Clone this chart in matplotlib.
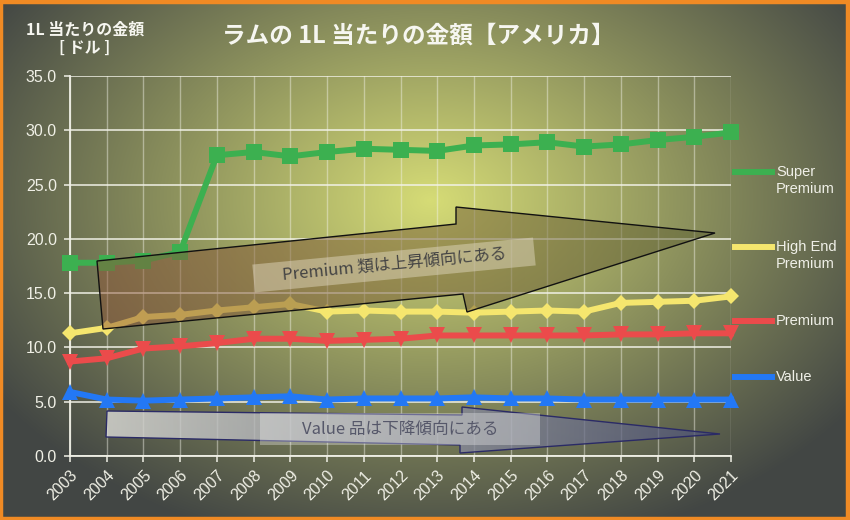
import numpy as np
import matplotlib
matplotlib.use('Agg')
import matplotlib.pyplot as plt
from matplotlib.patches import Polygon, Rectangle
from matplotlib.lines import Line2D

# ---------------- data ----------------
years = list(range(2003, 2022))
super_premium = [17.8, 17.8, 18.0, 18.8, 27.7, 28.0, 27.6, 28.0, 28.3, 28.2,
                 28.1, 28.6, 28.7, 28.9, 28.5, 28.7, 29.1, 29.4, 29.8]
high_end_premium = [11.3, 11.8, 12.8, 13.0, 13.4, 13.7, 14.0, 13.3, 13.4, 13.3,
                    13.3, 13.2, 13.3, 13.4, 13.3, 14.1, 14.2, 14.3, 14.7]
premium = [8.7, 9.0, 9.9, 10.1, 10.4, 10.8, 10.8, 10.6, 10.7, 10.8,
           11.1, 11.1, 11.1, 11.1, 11.1, 11.2, 11.2, 11.3, 11.3]
value = [5.9, 5.2, 5.1, 5.2, 5.3, 5.4, 5.5, 5.2, 5.3, 5.3,
         5.3, 5.4, 5.3, 5.3, 5.2, 5.2, 5.2, 5.2, 5.2]
series_names = ["Super\nPremium", "High End\nPremium", "Premium", "Value"]
y_ticks = [0, 5, 10, 15, 20, 25, 30, 35]
title = "ラムの 1L 当たりの金額【アメリカ】"
ylabel = "1L 当たりの金額\n[ ドル ]"
note_up = "Premium 類は上昇傾向にある"
note_down = "Value 品は下降傾向にある"

JP = ['Noto Sans CJK JP', 'DejaVu Sans']
LAT = ['Liberation Sans', 'Noto Sans CJK JP', 'DejaVu Sans']
plt.rcParams['font.family'] = LAT

W, H = 850, 520
fig = plt.figure(figsize=(W / 100, H / 100), dpi=100)

# ---------------- background gradient ----------------
bg = fig.add_axes([0, 0, 1, 1], zorder=0)
yy, xx = np.mgrid[0:H, 0:W]
d = np.sqrt(((xx - 430) / 520.0) ** 2 + ((yy - 200) / 360.0) ** 2)
t = np.clip(d, 0, 1)[..., None]
c0 = np.array([214, 220, 118]) / 255.0
c1 = np.array([66, 70, 68]) / 255.0
img = c0 * (1 - t) + c1 * t
bg.imshow(img, extent=[0, W, H, 0], aspect='auto', interpolation='bilinear')
bg.set_xlim(0, W); bg.set_ylim(H, 0)
bg.axis('off')

# ---------------- main axes ----------------
ax = fig.add_axes([70 / W, (H - 456) / H, 661 / W, 380 / H], zorder=1)
ax.set_facecolor('none')
ax.set_xlim(2003, 2021)
ax.set_ylim(0, 35)
ax.set_yticks(y_ticks)
ax.set_yticklabels([f"{v:.1f}" for v in y_ticks], fontsize=11.5, color='#ecece4')
ax.set_xticks(years)
ax.set_xticklabels([str(y) for y in years], fontsize=11.5, color='#ecece4',
                   rotation=45, ha='right', va='top', rotation_mode='anchor')
for s in ['top', 'right']:
    ax.spines[s].set_visible(False)
for s in ['left', 'bottom']:
    ax.spines[s].set_color('#f0f0e6')
    ax.spines[s].set_linewidth(1.3)
ax.tick_params(axis='both', colors='#f0f0e6', length=4.5, width=1.1, pad=4)
ax.tick_params(axis='y', pad=5)
ax.grid(axis='y', color='#f2f2e8', linewidth=1.2, alpha=0.9)
ax.grid(axis='x', color='#f2f2e8', linewidth=1.0, alpha=0.45)
ax.set_axisbelow(True)

colors = ['#3cb050', '#f5e66e', '#eb4b4b', '#2378f5']
markers = ['s', 'D', 'v', '^']
msizes = [11.5, 8.5, 11, 11]
data = [super_premium, high_end_premium, premium, value]
for vals, c, m, ms in zip(data, colors, markers, msizes):
    ax.plot(years, vals, color=c, lw=4.3, marker=m, markersize=ms,
            markeredgewidth=0, clip_on=False, zorder=3)

# ---------------- overlay (pixel coordinates) ----------------
ov = fig.add_axes([0, 0, 1, 1], zorder=3)
ov.patch.set_alpha(0)


def grad_poly(a, pts, c_left, c_right, ec):
    poly = Polygon(pts, closed=True, facecolor='none', edgecolor=ec, lw=1.0, zorder=5)
    a.add_patch(poly)
    xs = [p[0] for p in pts]
    ys = [p[1] for p in pts]
    n = 256
    tt = np.linspace(0, 1, n)[:, None]
    row = np.array(c_left) * (1 - tt) + np.array(c_right) * tt
    arr = np.repeat(row[None, :, :], 2, axis=0)
    im = a.imshow(arr, extent=[min(xs), max(xs), max(ys), min(ys)], aspect='auto',
                  zorder=4, interpolation='bilinear')
    im.set_clip_path(poly)


up_arrow = [(97, 261), (456, 224), (456, 207), (715, 233), (467, 312), (463, 294), (103, 329)]
grad_poly(ov, up_arrow, (0.56, 0.33, 0.22, 0.5), (0.36, 0.38, 0.20, 0.5), '#111111')

down_arrow = [(107, 411), (462, 415), (462, 407), (720, 434), (460, 453), (460, 445), (106, 437)]
grad_poly(ov, down_arrow, (0.84, 0.84, 0.82, 0.85), (0.30, 0.32, 0.46, 0.75), '#2a2a66')

# text boxes
ang = np.deg2rad(5.5)
cx, cy, bw, bh = 394, 265, 282, 28
ux, uy = np.cos(ang), -np.sin(ang)
vx, vy = np.sin(ang), np.cos(ang)
corners = []
for sx, sy in [(-1, -1), (1, -1), (1, 1), (-1, 1)]:
    corners.append((cx + sx * bw / 2 * ux + sy * bh / 2 * vx,
                    cy + sx * bw / 2 * uy + sy * bh / 2 * vy))
ov.add_patch(Polygon(corners, closed=True, facecolor=(0.9, 0.87, 0.78, 0.45),
                     edgecolor='none', zorder=6))
ov.text(cx, cy, note_up, family=JP, fontsize=12, color='#444444', rotation=5.5,
        ha='center', va='center', rotation_mode='anchor', zorder=7)

ov.add_patch(Rectangle((260, 413), 280, 32, facecolor=(0.93, 0.93, 0.93, 0.35),
                       edgecolor='none', zorder=6))
ov.text(400, 429, note_down, family=JP, fontsize=12, color='#56586a',
        ha='center', va='center', zorder=7)

# legend (manual)
leg_y = [172, 247, 321, 377]
for c, name, ly in zip(colors, series_names, leg_y):
    ov.add_line(Line2D([735, 772], [ly, ly], color=c, lw=4.3, zorder=6))
    ov.text(776, ly - 7, name, fontsize=10.5, color='#f0f0e8', ha='left', va='top',
            multialignment='left', linespacing=1.25, zorder=7)

# title & y label
ov.text(418, 36, title, family=JP, fontsize=17, fontweight='bold', color='#f6f6f0',
        ha='center', va='center', zorder=7)
ov.text(85, 39, ylabel, family=JP, fontsize=11.5, fontweight='bold', color='#f6f6f0',
        ha='center', va='center', linespacing=1.15, zorder=7)

# orange border
ov.add_patch(Rectangle((1.5, 1.5), W - 3, H - 3, facecolor='none',
                       edgecolor='#f08a24', lw=3.2, zorder=8))

ov.set_xlim(0, W)
ov.set_ylim(H, 0)
ov.axis('off')

fig.savefig('out.png', dpi=100)
